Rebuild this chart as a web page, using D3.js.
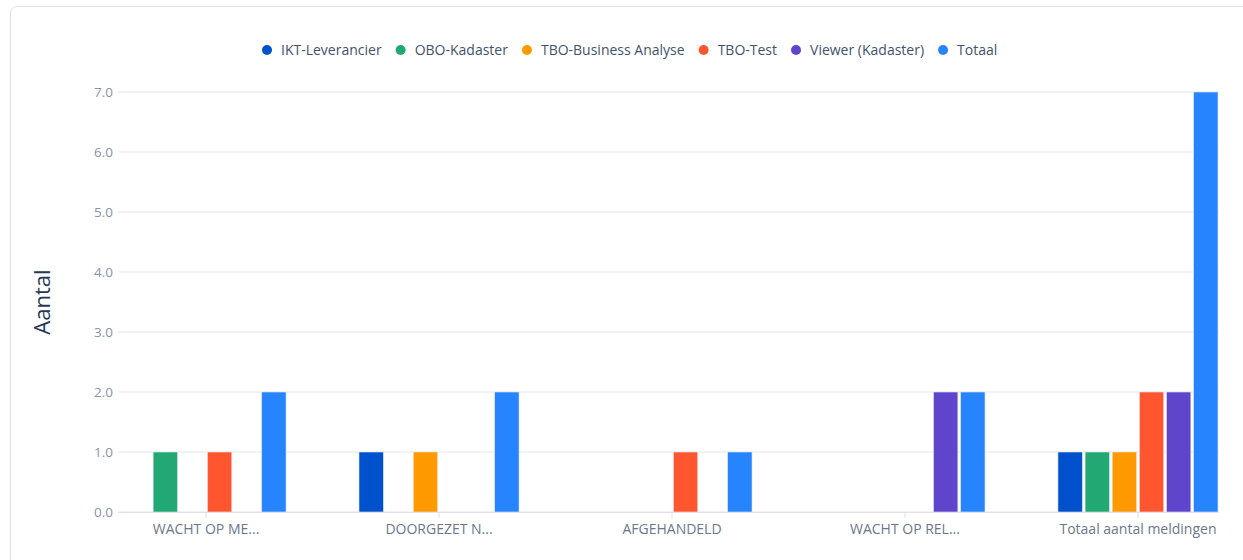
<!DOCTYPE html>
<html>
<head>
<meta charset="utf-8">
<script src="https://cdn.jsdelivr.net/npm/d3@7"></script>
<style>
  body { margin: 0; background: #fff; font-family: "Open Sans", "Noto Sans", sans-serif; }
  #card {
    position: absolute; left: 10px; top: 6px; width: 1260px; height: 600px;
    border: 1px solid #dfe1e6; border-radius: 7px; box-sizing: border-box;
  }
  svg { position: absolute; left: 0; top: 0; }
</style>
</head>
<body>
<div id="card"></div>
<svg id="graph"></svg>
<script>
var categories = ["WACHT OP ME...", "DOORGEZET N...", "AFGEHANDELD", "WACHT OP REL...", "Totaal aantal meldingen"];
var seriesNames = ["IKT-Leverancier", "OBO-Kadaster", "TBO-Business Analyse", "TBO-Test", "Viewer (Kadaster)", "Totaal"];
var ikt     = [0, 1, 0, 0, 1];
var obo     = [1, 0, 0, 0, 1];
var tboBA   = [0, 1, 0, 0, 1];
var tboTest = [1, 0, 1, 0, 2];
var viewer  = [0, 0, 0, 2, 2];
var totaal  = [2, 2, 1, 2, 7];
var yTicks = [0, 1, 2, 3, 4, 5, 6, 7];

var colors = ["#0052cc", "#22a873", "#ff9900", "#ff5630", "#5e45cc", "#2684ff"];
var allSeries = [ikt, obo, tboBA, tboTest, viewer, totaal];

var W = 1243, H = 560;
var svg = d3.select("#graph").attr("width", W).attr("height", H);

var plotLeft = 118, plotRight = 1219, plotTop = 92, plotBottom = 512;

var x = d3.scaleBand().domain(categories).range([126, 1218]).paddingInner(0.313).paddingOuter(0);
var xs = d3.scaleBand().domain(d3.range(seriesNames.length)).range([0, x.bandwidth()]).paddingInner(0.1);
var y = d3.scaleLinear().domain([0, 7]).range([plotBottom, plotTop]);

// gridlines
svg.append("g")
  .selectAll("line").data(yTicks).enter().append("line")
    .attr("x1", plotLeft).attr("x2", plotRight)
    .attr("y1", d => y(d)).attr("y2", d => y(d))
    .attr("stroke", "#e4e5ea").attr("stroke-width", 1);

// y labels
svg.append("g")
  .selectAll("text").data(yTicks).enter().append("text")
    .attr("x", plotLeft - 5).attr("y", d => y(d))
    .attr("dy", "0.35em")
    .attr("text-anchor", "end")
    .attr("fill", "#8993a4")
    .style("font-size", "13.5px")
    .text(d => d3.format(".1f")(d));

// bars (skip zero values, keep category index)
allSeries.forEach(function(vals, s) {
  var pts = vals.map((v, i) => ({cat: categories[i], v: v})).filter(d => d.v > 0);
  svg.append("g")
      .attr("fill", colors[s])
    .selectAll("rect").data(pts).enter().append("rect")
      .attr("x", d => x(d.cat) + xs(s))
      .attr("y", d => y(d.v))
      .attr("width", xs.bandwidth())
      .attr("height", d => y(0) - y(d.v))
      .attr("stroke", "#e8eaf2").attr("stroke-width", 0.6);
});

// x axis
svg.append("line")
  .attr("x1", plotLeft).attr("x2", plotRight)
  .attr("y1", plotBottom + 0.5).attr("y2", plotBottom + 0.5)
  .attr("stroke", "#dfe1e6");
var xg = svg.append("g");
xg.selectAll("line").data(categories).enter().append("line")
  .attr("x1", d => x(d) + x.bandwidth() / 2).attr("x2", d => x(d) + x.bandwidth() / 2)
  .attr("y1", plotBottom).attr("y2", plotBottom + 6)
  .attr("stroke", "#dfe1e6");
xg.selectAll("text").data(categories).enter().append("text")
  .attr("x", d => x(d) + x.bandwidth() / 2)
  .attr("y", plotBottom + 22)
  .attr("text-anchor", "middle")
  .attr("fill", "#6b778c")
  .style("font-size", "14px")
  .text(d => d);

// y title
svg.append("text")
  .attr("transform", "translate(50," + (plotTop + plotBottom) / 2 + ") rotate(-90)")
  .attr("text-anchor", "middle")
  .attr("fill", "#253858")
  .style("font-size", "22px")
  .text("Aantal");

// legend
var legend = svg.append("g").attr("transform", "translate(0,50)");
var lx = 262;
seriesNames.forEach(function(name, s) {
  var item = legend.append("g").attr("transform", "translate(" + lx + ",0)");
  item.append("circle").attr("cx", 5).attr("cy", 0).attr("r", 5).attr("fill", colors[s]);
  var t = item.append("text").attr("x", 19).attr("dy", "0.35em")
    .attr("fill", "#42526e").style("font-size", "14px").text(name);
  lx += 19 + t.node().getComputedTextLength() + 14;
});
</script>
</body>
</html>
